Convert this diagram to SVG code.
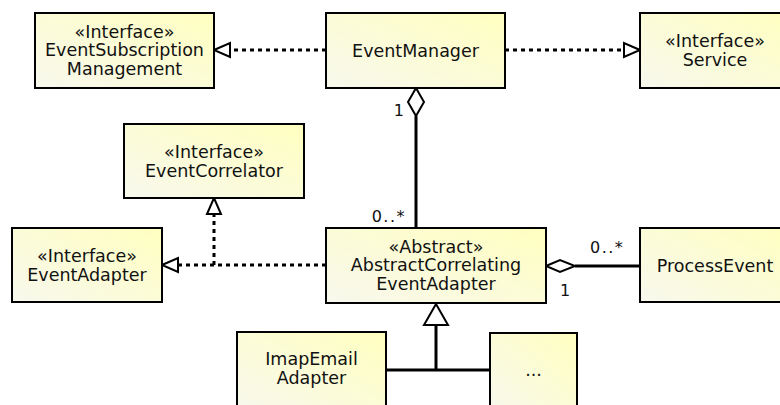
<svg xmlns="http://www.w3.org/2000/svg" width="780" height="405" viewBox="0 0 780 405">
  <defs>
    <linearGradient id="boxFill" x1="0" y1="1" x2="1" y2="0">
      <stop offset="0" stop-color="#f8f8ee"/>
      <stop offset="1" stop-color="#ffffc0"/>
    </linearGradient>
    <style>
      .box { fill: url(#boxFill); stroke: #000; stroke-width: 2; }
      .lbl { font-family: "DejaVu Sans", Verdana, sans-serif; font-size: 17.5px; fill: #111; text-anchor: middle; }
      .mult { font-family: "DejaVu Sans", Verdana, sans-serif; font-size: 16px; fill: #111; }
      .dotted { fill: none; stroke: #000; stroke-width: 3; stroke-dasharray: 4 4; }
      .solid { fill: none; stroke: #000; stroke-width: 3; }
      .head { fill: #fff; stroke: #000; stroke-width: 2; stroke-linejoin: miter; }
    </style>
  </defs>
  <rect width="780" height="405" fill="#fff"/>

  <g id="connectors">
    <!-- realizations -->
    <line class="dotted" x1="326" y1="50" x2="230" y2="50"/>
    <polygon class="head" points="214,50 230,43 230,57"/>
    <line class="dotted" x1="505" y1="50" x2="624" y2="50"/>
    <polygon class="head" points="640,50 624,43 624,57"/>
    <line class="dotted" x1="326" y1="265" x2="178" y2="265"/>
    <polygon class="head" points="162,265 178,258 178,272"/>
    <line class="dotted" x1="214" y1="265" x2="214" y2="214"/>
    <polygon class="head" points="214,198 207,214 221,214"/>
    <!-- aggregations -->
    <line class="solid" x1="416" y1="116" x2="416" y2="228"/>
    <polygon class="head" points="416,88 424,102 416,116 408,102"/>
    <line class="solid" x1="575" y1="266" x2="640" y2="266"/>
    <polygon class="head" points="546,266 560,260 575,266 560,272"/>
    <!-- generalization -->
    <polyline class="solid" points="386,370 490,370"/>
    <line class="solid" x1="436" y1="325" x2="436" y2="370"/>
    <polygon class="head" points="436,304 424,325 448,325"/>
    <!-- multiplicities -->
    <text class="mult" x="404" y="116" text-anchor="end">1</text>
    <text class="mult" x="406" y="222" text-anchor="end" letter-spacing="1.5">0..*</text>
    <text class="mult" x="590" y="253" letter-spacing="1.5">0..*</text>
    <text class="mult" x="560" y="296">1</text>
  </g>

  <g id="EventSubscriptionManagement">
    <rect class="box" x="35" y="13" width="179" height="75"/>
    <text class="lbl" x="124.5" y="37.5">«Interface»</text>
    <text class="lbl" x="124.5" y="56">EventSubscription</text>
    <text class="lbl" x="124.5" y="74.5">Management</text>
  </g>

  <g id="EventManager">
    <rect class="box" x="326" y="13" width="179" height="75"/>
    <text class="lbl" x="415.5" y="56.5">EventManager</text>
  </g>

  <g id="Service">
    <rect class="box" x="640" y="13" width="150" height="75"/>
    <text class="lbl" x="715" y="47">«Interface»</text>
    <text class="lbl" x="715" y="65.5">Service</text>
  </g>

  <g id="EventCorrelator">
    <rect class="box" x="124" y="124" width="180" height="74"/>
    <text class="lbl" x="214" y="158">«Interface»</text>
    <text class="lbl" x="214" y="176.5">EventCorrelator</text>
  </g>

  <g id="EventAdapter">
    <rect class="box" x="12" y="228" width="150" height="74"/>
    <text class="lbl" x="87" y="262">«Interface»</text>
    <text class="lbl" x="87" y="280.5">EventAdapter</text>
  </g>

  <g id="AbstractCorrelatingEventAdapter">
    <rect class="box" x="326" y="228" width="220" height="75"/>
    <text class="lbl" x="436" y="252.5">«Abstract»</text>
    <text class="lbl" x="436" y="271">AbstractCorrelating</text>
    <text class="lbl" x="436" y="289.5">EventAdapter</text>
  </g>

  <g id="ProcessEvent">
    <rect class="box" x="640" y="228" width="150" height="74"/>
    <text class="lbl" x="715" y="271.5">ProcessEvent</text>
  </g>

  <g id="ImapEmailAdapter">
    <rect class="box" x="237" y="332" width="149" height="80"/>
    <text class="lbl" x="311.5" y="365">ImapEmail</text>
    <text class="lbl" x="311.5" y="383.5">Adapter</text>
  </g>

  <g id="OtherAdapters">
    <rect class="box" x="490" y="333" width="87" height="80"/>
    <text class="lbl" x="533.5" y="376">...</text>
  </g>
</svg>
